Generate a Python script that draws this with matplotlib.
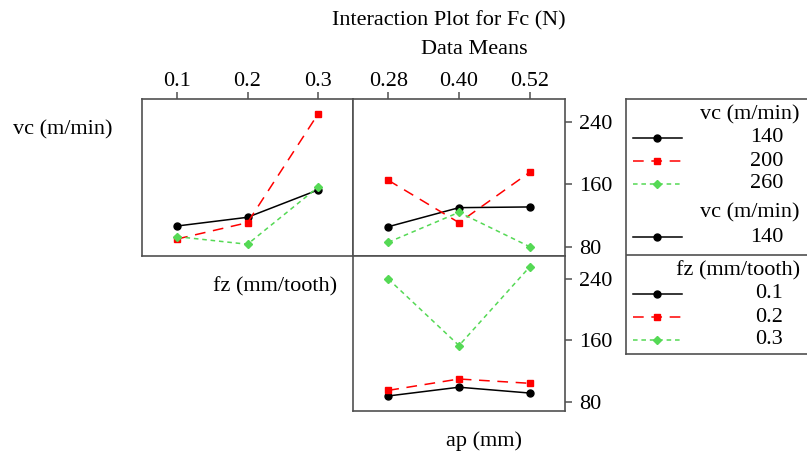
import numpy as np
import matplotlib.pyplot as plt

plt.rcParams['font.family'] = ['Liberation Serif', 'DejaVu Serif']
plt.rcParams['font.size'] = 16

# factor levels
vc_levels = ['140', '200', '260']
fz_levels = ['0.1', '0.2', '0.3']
ap_levels = ['0.28', '0.40', '0.52']

# means of Fc (N), rows = level of the trace factor
vc_fz_means = [[106.6, 117.8, 152.9],
               [89.9, 110.9, 250.3],
               [92.9, 83.1, 156.4]]
vc_ap_means = [[105.7, 130.2, 131.1],
               [165.4, 110.9, 175.7],
               [85.7, 124.2, 80.0]]
fz_ap_means = [[87.6, 99.0, 91.4],
               [94.9, 109.7, 104.1],
               [240.0, 153.3, 255.8]]

y_ticks = [80, 160, 240]

colors = ['black', '#ff0000', '#55d955']
markers = ['o', 's', 'D']
msizes = [5, 5, 4.5]
dashes = ['-', (0, (7, 5)), (0, (3, 2.5))]
spine_col = '#505050'

W, H = 807, 454
fig = plt.figure(figsize=(W / 100, H / 100), dpi=100)


def px_axes(x0, y0, x1, y1):
    return fig.add_axes([x0 / W, 1 - y1 / H, (x1 - x0) / W, (y1 - y0) / H])


def draw_panel(ax, means):
    x = np.arange(3)
    for i, row in enumerate(means):
        ax.plot(x, row, color=colors[i], linestyle=dashes[i], marker=markers[i],
                markersize=msizes[i], linewidth=1.1)
    ax.set_xlim(-0.5, 2.5)
    ax.set_ylim(68, 270)
    for s in ax.spines.values():
        s.set_color(spine_col)
        s.set_linewidth(1.2)
    ax.tick_params(color=spine_col, direction='out', length=5, width=1.1)


ax_tl = px_axes(142, 99, 353, 256)
ax_tr = px_axes(353, 99, 565, 256)
ax_br = px_axes(353, 256, 565, 411)

draw_panel(ax_tl, vc_fz_means)
draw_panel(ax_tr, vc_ap_means)
draw_panel(ax_br, fz_ap_means)

ax_tl.set_xticks(range(3), fz_levels)
ax_tr.set_xticks(range(3), ap_levels)
for ax in (ax_tl, ax_tr):
    ax.xaxis.tick_top()
    ax.tick_params(axis='x', pad=1)
ax_br.set_xticks([])
ax_tl.set_yticks([])
for ax in (ax_tr, ax_br):
    ax.set_yticks(y_ticks)
    ax.yaxis.tick_right()
    ax.tick_params(axis='y', pad=5)

# titles and factor names
fig.text(449 / W, 1 - 21 / H, 'Interaction Plot for Fc (N)', ha='center', va='center')
fig.text(474 / W, 1 - 50 / H, 'Data Means', ha='center', va='center')
fig.text(13 / W, 1 - 130 / H, 'vc (m/min)', ha='left', va='center')
fig.text(275 / W, 1 - 287 / H, 'fz (mm/tooth)', ha='center', va='center')
fig.text(484 / W, 1 - 441 / H, 'ap (mm)', ha='center', va='center')

# legend block, drawn in pixel coordinates
lg = px_axes(626, 99, 812, 354)
lg.set_xlim(626, 812)
lg.set_ylim(354, 99)
lg.set_xticks([])
lg.set_yticks([])
for s in lg.spines.values():
    s.set_color(spine_col)
    s.set_linewidth(1.2)
lg.axhline(255, color=spine_col, linewidth=1.2)

legend_groups = [('vc (m/min)', vc_levels, 115, 138),
                 ('vc (m/min)', vc_levels[:1], 213, 237),
                 ('fz (mm/tooth)', fz_levels, 271, 294)]
for title, labels, ty, y0 in legend_groups:
    lg.text(800, ty, title, ha='right', va='center')
    for i, lab in enumerate(labels):
        y = y0 + i * 23
        lg.plot([633, 682], [y, y], color=colors[i], linestyle=dashes[i], linewidth=1.1)
        lg.plot([657], [y], color=colors[i], marker=markers[i], markersize=msizes[i])
        lg.text(783, y, lab, ha='right', va='center')

fig.savefig('out.png', dpi=100)
